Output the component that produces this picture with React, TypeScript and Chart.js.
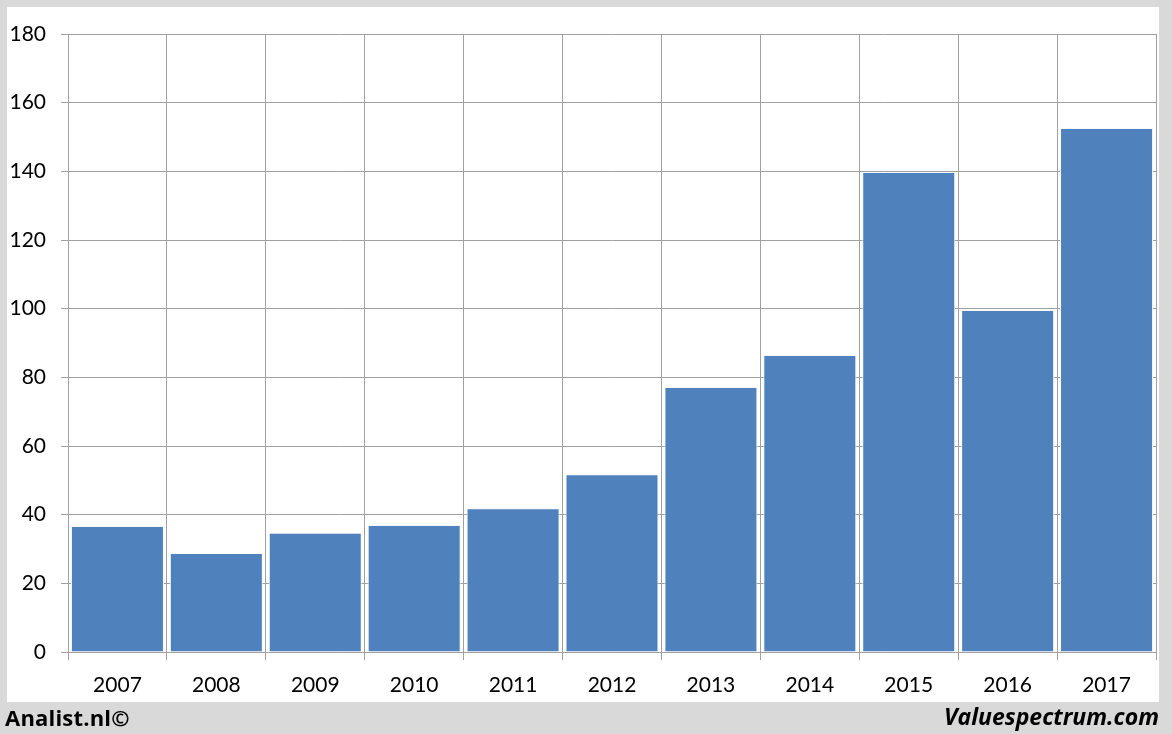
import React, { useEffect, useRef } from "react";
import { Chart, registerables } from "chart.js";

Chart.register(...registerables);

const years = ["2007", "2008", "2009", "2010", "2011", "2012", "2013", "2014", "2015", "2016", "2017"];
const values = [36.7, 28.8, 34.7, 37.0, 41.9, 51.8, 77.2, 86.5, 139.8, 99.6, 152.6];
const yTicks = [0, 20, 40, 60, 80, 100, 120, 140, 160, 180];

const GRID = "#a0a0a0";
const FONT = "Lato, 'Open Sans', sans-serif";
const FOOT_FONT = "'Open Sans', Lato, sans-serif";

export default function App() {
  const ref = useRef<HTMLCanvasElement | null>(null);

  useEffect(() => {
    if (!ref.current) return;
    const chart = new Chart(ref.current, {
      type: "bar",
      data: {
        labels: years,
        datasets: [
          {
            data: values,
            backgroundColor: "#4f81bd",
            borderColor: "#f4f7fb",
            borderWidth: 1,
            barPercentage: 0.94,
            categoryPercentage: 1,
          },
        ],
      },
      options: {
        animation: false,
        responsive: false,
        maintainAspectRatio: false,
        layout: { padding: { top: 34, right: 16, bottom: 0, left: 0 } },
        plugins: { legend: { display: false }, tooltip: { enabled: false } },
        scales: {
          x: {
            offset: true,
            grid: { offset: true, color: GRID, tickLength: 8, lineWidth: 1 },
            border: { color: GRID },
            ticks: { color: "#000", font: { family: FONT, size: 21 }, padding: 13, maxRotation: 0 },
            afterFit: (s: any) => { s.height = 82; },
          },
          y: {
            min: 0,
            max: 180,
            afterBuildTicks: (s: any) => { s.ticks = yTicks.map((v) => ({ value: v })); },
            grid: { color: GRID, tickLength: 7, lineWidth: 1 },
            border: { color: GRID },
            ticks: { color: "#000", font: { family: FONT, size: 21 }, padding: 15 },
            afterFit: (s: any) => { s.width = 68; },
          },
        },
      },
    });
    return () => chart.destroy();
  }, []);

  return (
    <div style={{ position: "fixed", left: 0, top: 0, width: 1172, height: 734, background: "#d9d9d9", overflow: "hidden" }}>
      <div style={{ position: "absolute", left: 7, top: 7, width: 1152, height: 695, background: "#fff" }} />
      <canvas ref={ref} width={1172} height={734} style={{ position: "absolute", left: 0, top: 0, width: 1172, height: 734 }} />
      <div style={{ position: "absolute", left: 5, top: 701, fontFamily: FOOT_FONT, fontWeight: 700, fontSize: 22, color: "#000", lineHeight: "32px", letterSpacing: "0.2px" }}>
        Analist.nl©
      </div>
      <div style={{ position: "absolute", right: 13, top: 700, fontFamily: FOOT_FONT, fontWeight: 700, fontStyle: "italic", fontSize: 23, color: "#000", lineHeight: "32px" }}>
        Valuespectrum.com
      </div>
    </div>
  );
}
